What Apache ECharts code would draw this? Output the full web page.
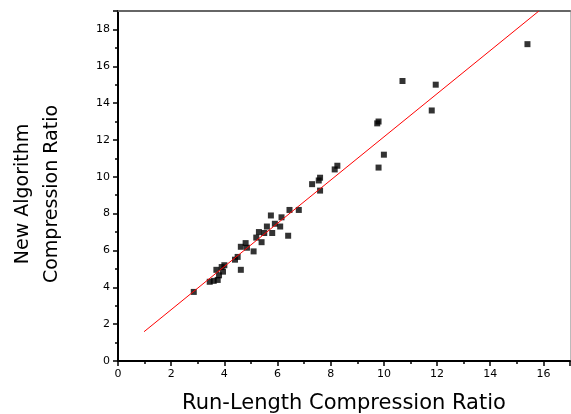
<!DOCTYPE html>
<html>
<head>
<meta charset="utf-8">
<script src="https://cdn.jsdelivr.net/npm/echarts@6/dist/echarts.min.js"></script>
<style>
  html, body { margin: 0; padding: 0; background: #fff; }
  #chart { width: 571px; height: 414px; }
</style>
</head>
<body>
<div id="chart"></div>
<script>
// measured points (run-length ratio vs new algorithm ratio)
const runLength = [2.85, 3.45, 3.6, 3.75, 3.7, 3.8, 3.9, 4.0, 3.95, 4.4, 4.5, 4.62, 4.62, 4.8, 4.85,
    5.1, 5.2, 5.3, 5.4, 5.5, 5.6, 5.8, 5.75, 5.9, 6.1, 6.15, 6.45, 6.4, 6.8, 7.3, 7.55, 7.6, 7.6,
    8.15, 8.25, 9.75, 9.8, 10.0, 9.8, 10.7, 11.95, 11.8, 15.4];
const newAlgo = [3.75, 4.3, 4.35, 4.4, 4.95, 4.65, 5.1, 5.2, 4.85, 5.5, 5.65, 4.95, 6.2, 6.4, 6.15,
    5.95, 6.7, 7.0, 6.45, 6.95, 7.3, 6.95, 7.9, 7.45, 7.3, 7.8, 8.2, 6.8, 8.2, 9.6, 9.8, 9.95, 9.25,
    10.4, 10.6, 12.9, 13.0, 11.2, 10.5, 15.2, 15.0, 13.6, 17.2];
// fitted line end points
const fitX = [0.98, 15.83];
const fitY = [1.59, 19.0];

const points = runLength.map((x, i) => [x, newAlgo[i]]);
const fitLine = fitX.map((x, i) => [x, fitY[i]]);

const chart = echarts.init(document.getElementById('chart'));
const tickFont = { fontFamily: 'DejaVu Sans', fontSize: 11, color: '#000' };

chart.setOption({
    animation: false,
    grid: { left: 118, top: 11, right: 1, bottom: 53, containLabel: false, outerBoundsMode: 'none' },
    xAxis: [
        {
            type: 'value',
            min: 0,
            max: 17,
            interval: 2,
            name: 'Run-Length Compression Ratio',
            nameLocation: 'middle',
            nameGap: 32,
            nameTextStyle: { fontFamily: 'DejaVu Sans', fontSize: 21, color: '#000' },
            axisLine: { onZero: false, lineStyle: { color: '#000', width: 2 } },
            axisTick: { length: 5, lineStyle: { color: '#000', width: 1.5 } },
            minorTick: { show: true, splitNumber: 2, length: 3, lineStyle: { color: '#000', width: 1.5 } },
            axisLabel: Object.assign({ margin: 8, showMaxLabel: false }, tickFont),
            splitLine: { show: false }
        },
        {
            type: 'value',
            position: 'top',
            min: 0,
            max: 17,
            axisLine: { show: true, onZero: false, lineStyle: { color: '#666', width: 2 } },
            axisTick: { show: false },
            axisLabel: { show: false },
            splitLine: { show: false }
        }
    ],
    yAxis: [
        {
            type: 'value',
            min: 0,
            max: 19,
            interval: 2,
            name: 'New Algorithm\nCompression Ratio',
            nameLocation: 'middle',
            nameGap: 51,
            nameTextStyle: { fontFamily: 'DejaVu Sans', fontSize: 19, color: '#000', lineHeight: 29, padding: [0, 16, 0, 0] },
            axisLine: { onZero: false, lineStyle: { color: '#000', width: 2 } },
            axisTick: { length: 5, lineStyle: { color: '#000', width: 1.5 } },
            minorTick: { show: true, splitNumber: 2, length: 3, lineStyle: { color: '#000', width: 1.5 } },
            axisLabel: Object.assign({ margin: 8, showMaxLabel: false }, tickFont),
            splitLine: { show: false }
        },
        {
            type: 'value',
            position: 'right',
            min: 0,
            max: 19,
            axisLine: { show: true, onZero: false, lineStyle: { color: '#bbb', width: 1 } },
            axisTick: { show: false },
            axisLabel: { show: false },
            splitLine: { show: false }
        }
    ],
    series: [
        {
            type: 'line',
            data: fitLine,
            symbol: 'none',
            lineStyle: { color: '#ff0000', width: 1 },
            z: 3
        },
        {
            type: 'scatter',
            data: points,
            symbol: 'rect',
            symbolSize: 6,
            itemStyle: { color: '#000' },
            z: 2
        }
    ]
});
</script>
</body>
</html>
